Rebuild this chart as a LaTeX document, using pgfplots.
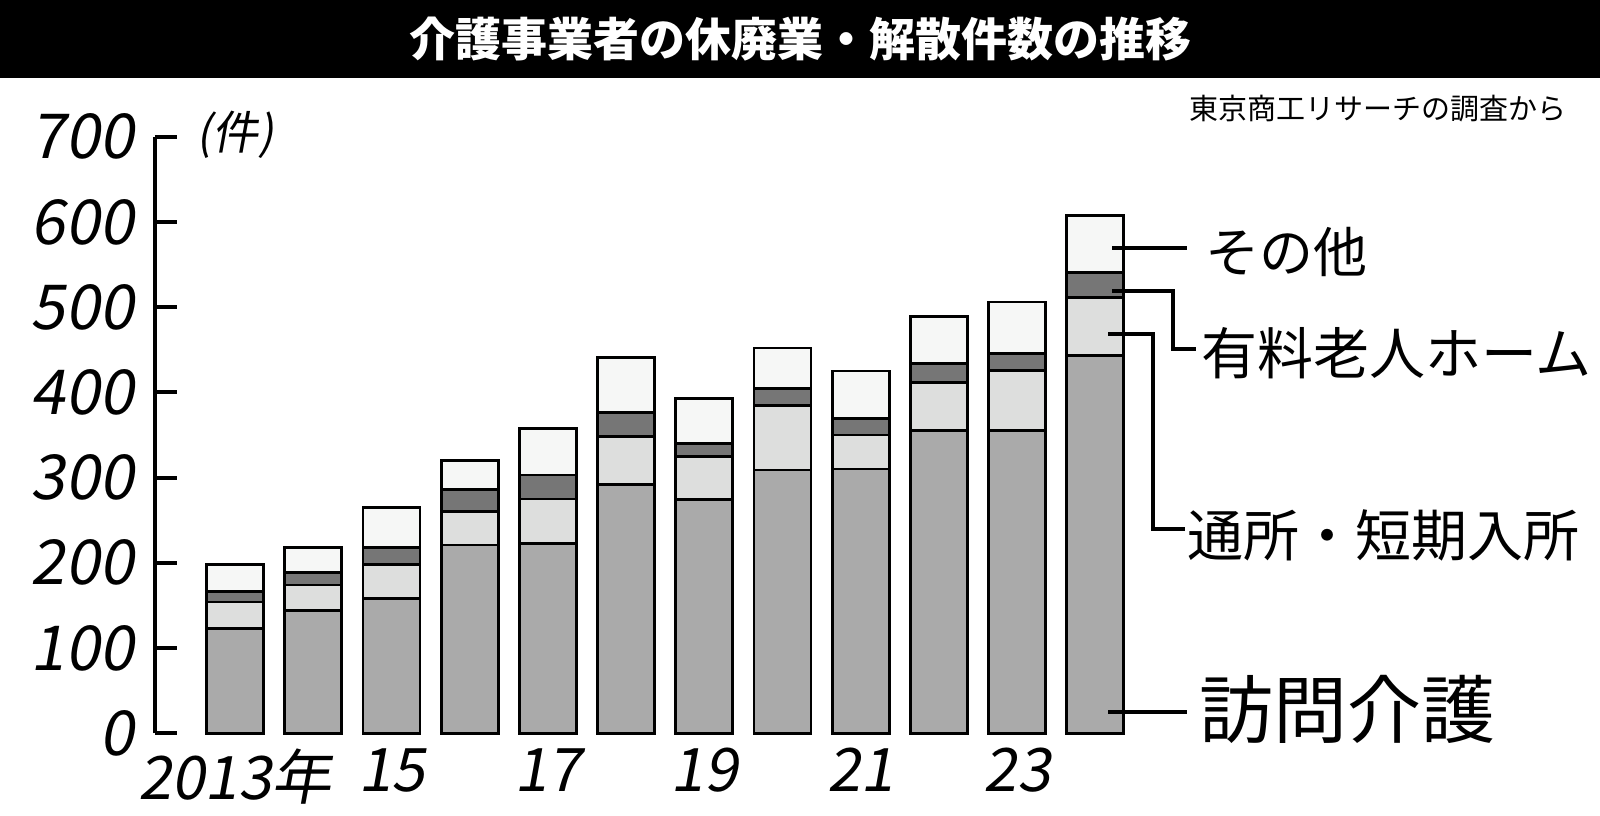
\documentclass[border=0pt]{standalone}
\usepackage{fontspec}
\setmainfont{Noto Sans CJK JP}
\newfontfamily\hand[FakeSlant=0.18]{Noto Sans CJK JP}
\usepackage{pgfplots}
\pgfplotsset{compat=1.18}
\usepackage{pgfplotstable}

\definecolor{cHomon}{RGB}{170,170,170}
\definecolor{cTsusho}{RGB}{221,222,221}
\definecolor{cYuryo}{RGB}{118,118,118}
\definecolor{cOther}{RGB}{246,247,246}

\pgfplotstableread{
x homon tsusho yuryo other
0 123 31 12 32
1 144 30 15 29
2 158 40 20 47
3 221 39 26 34
4 223 52 28 55
5 292 56 28 65
6 274 51 15 53
7 309 76 20 47
8 310 40 19 56
9 355 57 22 55
10 355 71 20 60
11 443 68 30 67
}\data

\begin{document}
\begin{tikzpicture}
\path[use as bounding box] (0,0) rectangle (800pt,407.5pt);
\begin{axis}[
  at={(77.5pt,40.85pt)}, anchor=south west, scale only axis,
  width=489.65pt, height=298.3pt,
  xmin=-1.023, xmax=11.5, ymin=0, ymax=700,
  clip=false,
  ybar stacked, bar width=28.5pt,
  axis lines=left,
  y axis line style={-, line width=2pt, black},
  x axis line style={draw=none},
  xtick={0,2,4,6,8,10},
  xticklabels={2013年,15,17,19,21,23},
  xtick style={draw=none},
  ytick={0,100,...,700},
  tick align=inside,
  major tick length=11pt,
  ytick style={line width=2pt, black},
  /pgf/number format/assume math mode=true,
  yticklabel style={font=\hand\fontsize{31}{32}\selectfont, anchor=east, xshift=-7pt},
  xticklabel style={font=\hand\fontsize{30}{31}\selectfont, anchor=north, yshift=-4pt},
]
\addplot[fill=cHomon, draw=black, line width=1.4pt] table[x=x,y=homon]{\data};
\addplot[fill=cTsusho, draw=black, line width=1.4pt] table[x=x,y=tsusho]{\data};
\addplot[fill=cYuryo, draw=black, line width=1.4pt] table[x=x,y=yuryo]{\data};
\addplot[fill=cOther, draw=black, line width=1.4pt] table[x=x,y=other]{\data};
\end{axis}
\begin{scope}[x=0.5pt, y=0.5pt]
  \fill[black] (0,737) rectangle (1600,815);
  \node[text=white, font=\bfseries\fontsize{23}{25}\selectfont] at (800,776) {介護事業者の休廃業・解散件数の推移};
  \node[anchor=east, inner sep=0pt, font=\fontsize{14.5}{16}\selectfont] at (1567,706) {東京商工リサーチの調査から};
  \node[font=\hand\fontsize{23}{24}\selectfont] at (235,680) {(件)};
  % leaders
  \draw[line width=1.6pt] (1112,567) -- (1187,567);
  \draw[line width=1.6pt] (1112,524) -- (1173,524) -- (1173,466) -- (1196,466);
  \draw[line width=1.6pt] (1108,481) -- (1153,481) -- (1153,286) -- (1185,286);
  \draw[line width=1.6pt] (1108,103) -- (1187,103);
  % labels
  \node[anchor=west, inner sep=0pt, font=\fontsize{27}{28}\selectfont] at (1205,563) {その他};
  \node[anchor=west, inner sep=0pt, font=\fontsize{28}{29}\selectfont] at (1201,462) {有料老人ホーム};
  \node[anchor=west, inner sep=0pt, font=\fontsize{28}{29}\selectfont] at (1187,280) {通所・短期入所};
  \node[anchor=west, inner sep=0pt, font=\fontsize{37}{38}\selectfont] at (1199,106) {訪問介護};
\end{scope}
\end{tikzpicture}
\end{document}
